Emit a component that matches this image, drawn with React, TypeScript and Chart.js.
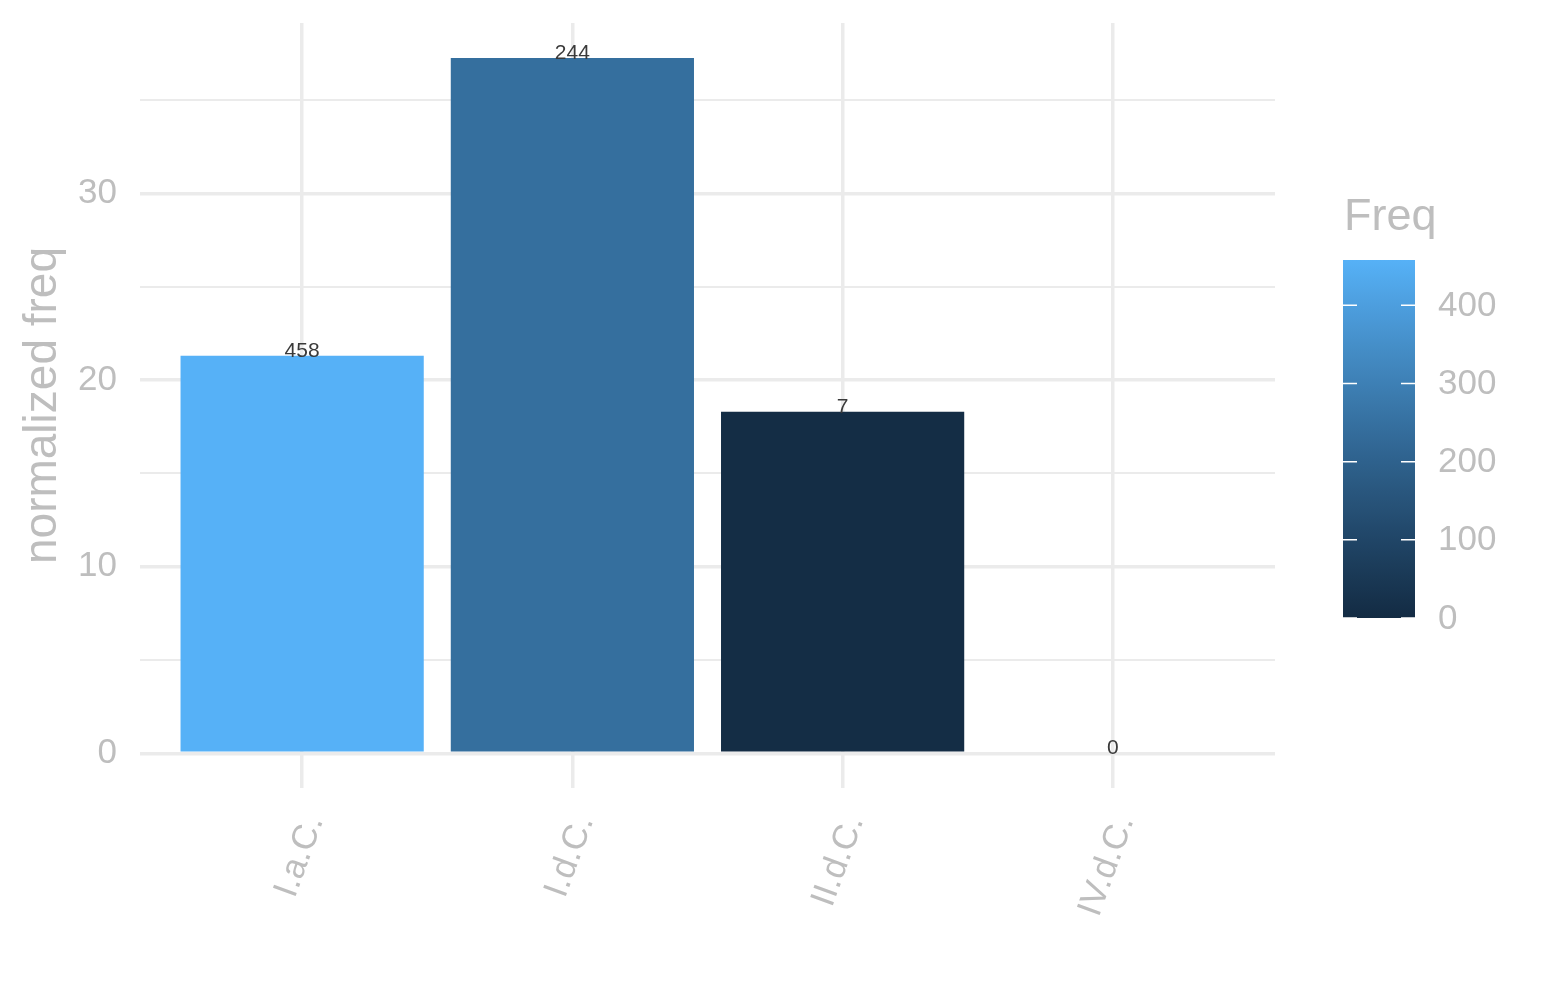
import { useEffect, useRef } from 'react';
import { Chart, registerables } from 'chart.js';

Chart.register(...registerables);

// data
const categories = ['I.a.C.', 'I.d.C.', 'II.d.C.', 'IV.d.C.'];
const normalizedFreq = [21.3, 37.27, 18.3, 0];
const freq = [458, 244, 7, 0];
const yTicks = [0, 5, 10, 15, 20, 25, 30, 35];
const legendTicks = [0, 100, 200, 300, 400];

const FONT = "'Liberation Sans', Arial, sans-serif";
const GREY = '#BEBEBE';
const GRID = '#EBEBEB';
const LOW = '#132B43';
const HIGH = '#56B1F7';

// --- Lab interpolation (like ggplot's seq_gradient) ---
const hexToRgb = (h: string) => [1, 3, 5].map((i) => parseInt(h.slice(i, i + 2), 16));
const toLin = (c: number) => { c /= 255; return c <= 0.04045 ? c / 12.92 : Math.pow((c + 0.055) / 1.055, 2.4); };
const fromLin = (c: number) => {
  const v = c <= 0.0031308 ? 12.92 * c : 1.055 * Math.pow(c, 1 / 2.4) - 0.055;
  return Math.round(Math.min(1, Math.max(0, v)) * 255);
};
const WHITE = [0.95047, 1, 1.08883];
const f = (t: number) => (t > 216 / 24389 ? Math.cbrt(t) : (24389 / 27 * t + 16) / 116);
const fi = (t: number) => (t * t * t > 216 / 24389 ? t * t * t : (116 * t - 16) / (24389 / 27));
const rgbToLab = (rgb: number[]) => {
  const [r, g, b] = rgb.map(toLin);
  const x = (0.4124 * r + 0.3576 * g + 0.1805 * b) / WHITE[0];
  const y = (0.2126 * r + 0.7152 * g + 0.0722 * b) / WHITE[1];
  const z = (0.0193 * r + 0.1192 * g + 0.9505 * b) / WHITE[2];
  const fx = f(x), fy = f(y), fz = f(z);
  return [116 * fy - 16, 500 * (fx - fy), 200 * (fy - fz)];
};
const labToRgb = (lab: number[]) => {
  const fy = (lab[0] + 16) / 116;
  const fx = fy + lab[1] / 500;
  const fz = fy - lab[2] / 200;
  const x = fi(fx) * WHITE[0], y = fi(fy) * WHITE[1], z = fi(fz) * WHITE[2];
  const r = 3.2406 * x - 1.5372 * y - 0.4986 * z;
  const g = -0.9689 * x + 1.8758 * y + 0.0415 * z;
  const b = 0.0557 * x - 0.204 * y + 1.057 * z;
  return `rgb(${fromLin(r)}, ${fromLin(g)}, ${fromLin(b)})`;
};
const lowLab = rgbToLab(hexToRgb(LOW));
const highLab = rgbToLab(hexToRgb(HIGH));
const freqMax = Math.max(...freq);
const fillFor = (v: number) => {
  const t = v / freqMax;
  return labToRgb(lowLab.map((l, i) => l + (highLab[i] - l) * t));
};

// colour bar geometry
const CB = { left: 1343, width: 72, bottom: 618, height: 358 };

const barLabels = {
  id: 'barLabels',
  afterDatasetsDraw(chart: Chart) {
    const { ctx } = chart;
    const meta = chart.getDatasetMeta(0);
    ctx.save();
    ctx.font = `21px ${FONT}`;
    ctx.fillStyle = '#3a3a3a';
    ctx.textAlign = 'center';
    ctx.textBaseline = 'alphabetic';
    meta.data.forEach((bar: any, i: number) => {
      ctx.fillText(String(freq[i]), bar.x, bar.y + 1);
    });
    ctx.restore();
  },
};

const colorBar = {
  id: 'colorBar',
  afterDraw(chart: Chart) {
    const { ctx } = chart;
    const top = CB.bottom - CB.height;
    ctx.save();
    const grad = ctx.createLinearGradient(0, CB.bottom, 0, top);
    for (let i = 0; i <= 20; i++) grad.addColorStop(i / 20, fillFor((i / 20) * freqMax));
    ctx.fillStyle = grad;
    ctx.fillRect(CB.left, top, CB.width, CB.height);

    ctx.strokeStyle = '#ffffff';
    ctx.lineWidth = 1.5;
    ctx.font = `35px ${FONT}`;
    ctx.fillStyle = GREY;
    ctx.textAlign = 'left';
    ctx.textBaseline = 'middle';
    legendTicks.forEach((v) => {
      const y = CB.bottom - (v / freqMax) * CB.height;
      ctx.beginPath();
      ctx.moveTo(CB.left, y);
      ctx.lineTo(CB.left + 14, y);
      ctx.moveTo(CB.left + CB.width - 14, y);
      ctx.lineTo(CB.left + CB.width, y);
      ctx.stroke();
      ctx.fillText(String(v), 1438, y + 1);
    });

    ctx.font = `45px ${FONT}`;
    ctx.textBaseline = 'alphabetic';
    ctx.fillText('Freq', CB.left + 1, 230);
    ctx.restore();
  },
};

export default function App() {
  const canvasRef = useRef<HTMLCanvasElement | null>(null);
  const chartRef = useRef<Chart | null>(null);

  useEffect(() => {
    if (!canvasRef.current) return;
    chartRef.current?.destroy();

    chartRef.current = new Chart(canvasRef.current, {
      type: 'bar',
      data: {
        datasets: [{
          data: normalizedFreq.map((y, i) => ({ x: i + 1, y })),
          backgroundColor: freq.map(fillFor),
          borderWidth: 0,
          barPercentage: 0.9,
          categoryPercentage: 1,
        }],
      },
      options: {
        animation: false,
        responsive: false,
        maintainAspectRatio: false,
        layout: { padding: { top: 23, right: 270, bottom: 0, left: 0 } },
        plugins: { legend: { display: false }, tooltip: { enabled: false } },
        scales: {
          x: {
            type: 'linear',
            min: 0.4,
            max: 4.6,
            offset: false,
            afterBuildTicks: (scale: any) => { scale.ticks = categories.map((_, i) => ({ value: i + 1 })); },
            afterFit: (scale: any) => {
              scale.height = 212;
              scale.paddingLeft = 0;
              scale.paddingRight = 0;
            },
            border: { display: false },
            grid: { color: GRID, lineWidth: 3.5, drawTicks: false, offset: false },
            ticks: {
              callback: (v: any) => categories[Number(v) - 1] ?? '',
              color: GREY,
              font: { family: FONT, size: 35 },
              minRotation: 70,
              maxRotation: 70,
              padding: 22,
              labelOffset: 12,
              autoSkip: false,
            },
          },
          y: {
            min: -1.86,
            max: 39.14,
            afterBuildTicks: (scale: any) => { scale.ticks = yTicks.map((value) => ({ value })); },
            afterFit: (scale: any) => {
              scale.width = 140;
              scale.paddingTop = 0;
              scale.paddingBottom = 0;
            },
            border: { display: false },
            grid: {
              color: GRID,
              lineWidth: (c: any) => (c.tick && c.tick.value % 10 === 0 ? 3.5 : 2),
              drawTicks: false,
            },
            ticks: {
              callback: (v: any) => (Number(v) % 10 === 0 ? String(v) : ''),
              color: GREY,
              font: { family: FONT, size: 35 },
              padding: 23,
            },
            title: {
              display: true,
              text: 'normalized freq',
              color: GREY,
              font: { family: FONT, size: 46 },
              padding: { top: 16, bottom: 0 },
            },
          },
        },
      },
      plugins: [barLabels, colorBar],
    });

    return () => {
      chartRef.current?.destroy();
      chartRef.current = null;
    };
  }, []);

  return (
    <div style={{ position: 'fixed', left: 0, top: 0, width: 1545, height: 1000, background: '#fff' }}>
      <canvas ref={canvasRef} width={1545} height={1000} style={{ width: 1545, height: 1000 }} />
    </div>
  );
}
